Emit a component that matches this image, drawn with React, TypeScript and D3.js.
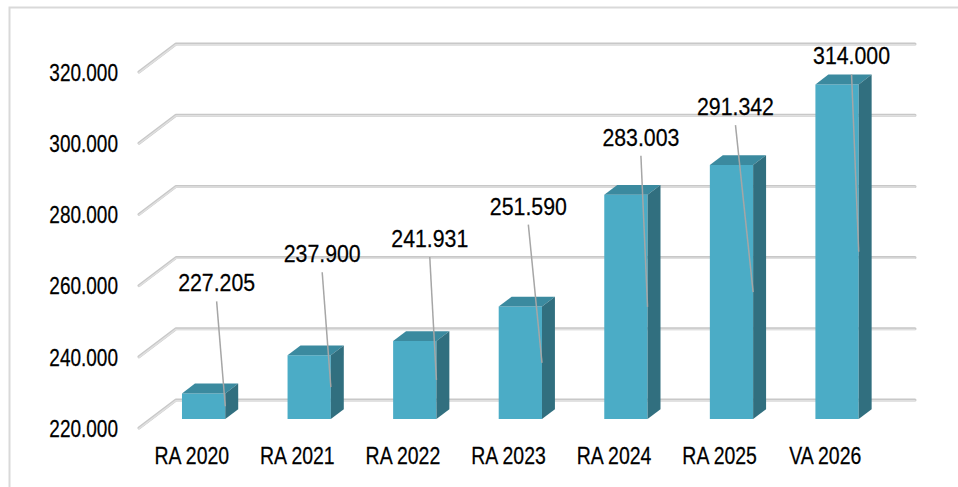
import React from "react";
import * as d3 from "d3";

const categories = ["RA 2020", "RA 2021", "RA 2022", "RA 2023", "RA 2024", "RA 2025", "VA 2026"];
const values = [227205, 237900, 241931, 251590, 283003, 291342, 314000];
const valueLabels = ["227.205", "237.900", "241.931", "251.590", "283.003", "291.342", "314.000"];
const tickValues = [220000, 240000, 260000, 280000, 300000, 320000];
const tickLabels = ["220.000", "240.000", "260.000", "280.000", "300.000", "320.000"];

// layout (pixels): manual data-label placement relative to the bar's front top
const LABEL_DX = [13, 13, 15, 8, 15, 4, 14.5];
const LABEL_LIFT = [102, 93, 94, 92, 49, 50, 20];

const W = 958;
const H = 487;
const FRONT_X0 = 139;
const FRONT_X1 = 878;
const DEPTH_X = 37;
const DEPTH_Y = -28;
const BAR_D0 = 0.32;
const BAR_D1 = 0.67;
const BAR_RATIO = 0.41;
const FONT = "'Liberation Sans', Arial, sans-serif";

function NarrowText(props: { x: number; y: number; sx: number; size: number; anchor: string; dy?: string; children: React.ReactNode }) {
  const { x, y, sx, size, anchor, dy, children } = props;
  return (
    <text
      transform={`translate(${x},${y}) scale(${sx},1)`}
      dy={dy}
      textAnchor={anchor}
      fontFamily={FONT}
      fontSize={size}
      fill="#000"
      stroke="#000"
      strokeWidth={0.25}
    >
      {children}
    </text>
  );
}

export default function App() {
  const x = d3.scaleBand<string>().domain(categories).range([FRONT_X0, FRONT_X1]).padding(0);
  const y = d3.scaleLinear().domain([220000, 320000]).range([428, 72]);
  const P = (px: number, v: number, d: number): [number, number] => [px + d * DEPTH_X, y(v) + d * DEPTH_Y];
  const pts = (arr: [number, number][]) => arr.map((p) => p.join(",")).join(" ");
  const base = y.domain()[0];
  const bw = x.bandwidth() * BAR_RATIO;

  return (
    <svg width={W} height={H} style={{ position: "absolute", left: 0, top: 0, background: "#fff" }}>
      <rect x={0} y={0} width={W} height={H} fill="#fff" />
      <rect x={9.5} y={7.5} width={W + 20} height={H + 20} fill="none" stroke="#d9d9d9" strokeWidth={2} />
      {/* gridlines */}
      {tickValues.map((t, i) => {
        const a = P(FRONT_X0, t, 0);
        const b = P(FRONT_X0, t, 1);
        const c = P(FRONT_X1, t, 1);
        return (
          <g key={t}>
            <polyline points={pts([a, b, c])} fill="none" stroke="#c8c8c8" strokeWidth={3} strokeLinecap="round" strokeLinejoin="round" />
            <polyline points={pts([a, b, c])} fill="none" stroke="#e0e0e0" strokeWidth={1.4} strokeLinecap="round" strokeLinejoin="round" transform="translate(0,0.6)" />
            <NarrowText x={a[0] - 21} y={a[1]} dy="0.36em" anchor="end" size={24.3} sx={0.782}>
              {tickLabels[i]}
            </NarrowText>
          </g>
        );
      })}
      {/* bars */}
      {categories.map((c, i) => {
        const cx = (x(c) as number) + x.bandwidth() / 2;
        const xl = cx - bw / 2;
        const xr = cx + bw / 2;
        const v = values[i];
        const f = [P(xl, base, BAR_D0), P(xr, base, BAR_D0), P(xr, v, BAR_D0), P(xl, v, BAR_D0)];
        const top = [P(xl, v, BAR_D0), P(xr, v, BAR_D0), P(xr, v, BAR_D1), P(xl, v, BAR_D1)];
        const side = [P(xr, base, BAR_D0), P(xr, v, BAR_D0), P(xr, v, BAR_D1), P(xr, base, BAR_D1)];
        return (
          <g key={c}>
            <polygon points={pts(f)} fill="#4BACC6" />
            <polygon points={pts(top)} fill="#3B8A9F" />
            <polygon points={pts(side)} fill="#316F7F" />
          </g>
        );
      })}
      {/* leader lines + labels */}
      {categories.map((c, i) => {
        const cx = (x(c) as number) + x.bandwidth() / 2;
        const xr = cx + bw / 2;
        const v = values[i];
        const [fx, ftop] = P(cx, v, BAR_D0);
        const [, fbot] = P(cx, base, BAR_D0);
        const lx = fx + LABEL_DX[i];
        const ly = ftop - LABEL_LIFT[i];
        const endX = P(xr, v, BAR_D0)[0];
        const endY = (ftop + fbot) / 2;
        return (
          <g key={"l" + c}>
            <line x1={lx} y1={ly + 10} x2={endX} y2={endY} stroke="#a6a6a6" strokeWidth={1.5} />
            <NarrowText x={lx} y={ly} anchor="middle" size={24.4} sx={0.873}>
              {valueLabels[i]}
            </NarrowText>
          </g>
        );
      })}
      {/* category labels */}
      {categories.map((c) => (
        <NarrowText key={"c" + c} x={(x(c) as number) + x.bandwidth() / 2} y={464} anchor="middle" size={23.3} sx={0.835}>
          {c}
        </NarrowText>
      ))}
    </svg>
  );
}
